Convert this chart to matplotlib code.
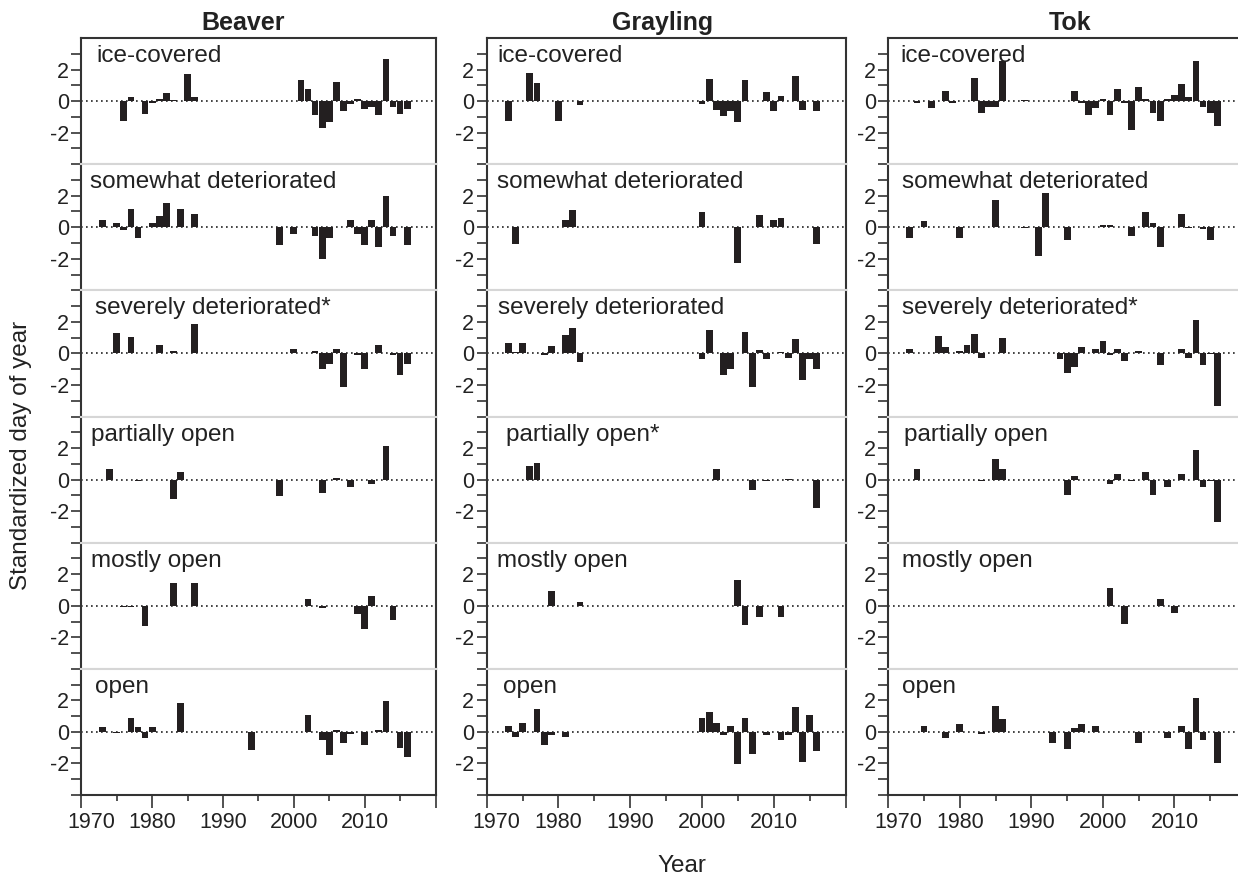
import matplotlib
matplotlib.use("Agg")
import matplotlib.pyplot as plt
from matplotlib.transforms import ScaledTranslation

plt.rcParams['font.family'] = ['Liberation Sans', 'DejaVu Sans']
plt.rcParams['axes.unicode_minus'] = False

## data: (year, standardized day of year) ##
stations = ['Beaver', 'Grayling', 'Tok']
stages = ['ice-covered', 'somewhat deteriorated', 'severely deteriorated',
          'partially open', 'mostly open', 'open']

# stages with a significant trend get an asterisk
starred = {('Beaver', 'severely deteriorated'), ('Grayling', 'partially open'),
           ('Tok', 'severely deteriorated')}

beaver_ice = [(1976, -1.28), (1977, 0.26), (1979, -0.79), (1980, -0.15), (1981, 0.13),
              (1982, 0.53), (1983, 0.05), (1985, 1.74), (1986, 0.26), (2000, 0.03),
              (2001, 1.36), (2002, 0.79), (2003, -0.91), (2004, -1.68), (2005, -1.3),
              (2006, 1.23), (2007, -0.66), (2008, -0.17), (2009, 0.15), (2010, -0.5),
              (2011, -0.35), (2012, -0.91), (2013, 2.64), (2014, -0.4), (2015, -0.79),
              (2016, -0.51)]
beaver_somewhat = [(1973, 0.43), (1975, 0.3), (1976, -0.17), (1977, 1.13), (1978, -0.7),
                   (1980, 0.3), (1981, 0.74), (1982, 1.51), (1984, 1.13), (1986, 0.87),
                   (1998, -1.15), (2000, -0.43), (2003, -0.55), (2004, -2.04), (2005, -0.68),
                   (2008, 0.43), (2009, -0.43), (2010, -1.15), (2011, 0.43), (2012, -1.26),
                   (2013, 2.0), (2014, -0.55), (2016, -1.15)]
beaver_severe = [(1975, 1.28), (1977, 1.06), (1981, 0.51), (1983, 0.13), (1986, 1.85),
                 (2000, 0.3), (2003, 0.13), (2004, -1.0), (2005, -0.64), (2006, 0.3),
                 (2007, -2.15), (2009, -0.08), (2010, -1.0), (2012, 0.51), (2014, -0.08),
                 (2015, -1.38), (2016, -0.64)]
beaver_partial = [(1974, 0.7), (1978, -0.08), (1983, -1.26), (1984, 0.51), (1998, -1.06),
                  (2004, -0.87), (2006, 0.13), (2008, -0.49), (2011, -0.3), (2013, 2.1)]
beaver_mostly = [(1976, -0.1), (1977, -0.05), (1979, -1.28), (1983, 1.45), (1986, 1.45),
                 (2002, 0.43), (2004, -0.13), (2009, -0.53), (2010, -1.49), (2011, 0.62),
                 (2014, -0.91)]
beaver_open = [(1973, 0.32), (1975, -0.04), (1977, 0.89), (1978, 0.32), (1979, -0.36),
               (1980, 0.32), (1984, 1.85), (1994, -1.15), (2002, 1.1), (2004, -0.49),
               (2005, -1.47), (2006, 0.13), (2007, -0.68), (2008, -0.13), (2010, -0.83),
               (2012, 0.13), (2013, 1.98), (2015, -1.0), (2016, -1.57)]

grayling_ice = [(1973, -1.28), (1976, 1.79), (1977, 1.15), (1980, -1.28), (1983, -0.26),
                (2000, -0.17), (2001, 1.4), (2002, -0.57), (2003, -0.96), (2004, -0.62),
                (2005, -1.34), (2006, 1.34), (2009, 0.57), (2010, -0.62), (2011, 0.32),
                (2012, 0.03), (2013, 1.6), (2014, -0.55), (2016, -0.62)]
grayling_somewhat = [(1974, -1.04), (1978, 0.02), (1981, 0.47), (1982, 1.1), (2000, 0.98),
                     (2005, -2.25), (2008, 0.79), (2010, 0.47), (2011, 0.6), (2016, -1.04)]
grayling_severe = [(1973, 0.68), (1974, 0.1), (1975, 0.68), (1978, -0.08), (1979, 0.49),
                   (1981, 1.19), (1982, 1.64), (1983, -0.53), (2000, -0.38), (2001, 1.51),
                   (2002, 0.02), (2003, -1.34), (2004, -0.96), (2006, 1.38), (2007, -2.13),
                   (2008, 0.23), (2009, -0.38), (2011, 0.1), (2012, -0.26), (2013, 0.94),
                   (2014, -1.66), (2015, -0.38), (2016, -0.96)]
grayling_partial = [(1976, 0.89), (1977, 1.02), (2002, 0.64), (2007, -0.68), (2009, -0.08),
                    (2012, 0.04), (2016, -1.83)]
grayling_mostly = [(1979, 0.91), (1983, 0.21), (2005, 1.62), (2006, -1.19), (2008, -0.72),
                   (2010, -0.02), (2011, -0.72)]
grayling_open = [(1973, 0.36), (1974, -0.32), (1975, 0.55), (1977, 1.45), (1978, -0.83),
                 (1979, -0.19), (1981, -0.32), (2000, 0.87), (2001, 1.26), (2002, 0.55),
                 (2003, -0.19), (2004, 0.36), (2005, -2.06), (2006, 0.87), (2007, -1.43),
                 (2009, -0.19), (2010, 0.02), (2011, -0.51), (2012, -0.19), (2013, 1.57),
                 (2014, -1.91), (2015, 1.06), (2016, -1.21)]

tok_ice = [(1974, -0.1), (1976, -0.47), (1978, 0.64), (1979, -0.13), (1982, 1.47),
           (1983, -0.77), (1984, -0.38), (1985, -0.38), (1986, 2.55), (1989, 0.1),
           (1996, 0.64), (1997, -0.13), (1998, -0.89), (1999, -0.43), (2000, 0.13),
           (2001, -0.89), (2002, 0.77), (2003, -0.13), (2004, -1.83), (2005, 0.89),
           (2006, 0.13), (2007, -0.77), (2008, -1.28), (2009, 0.13), (2010, 0.38),
           (2011, 1.09), (2012, 0.26), (2013, 2.55), (2014, -0.38), (2015, -0.77),
           (2016, -1.57)]
tok_somewhat = [(1973, -0.68), (1975, 0.38), (1980, -0.68), (1985, 1.72), (1989, -0.04),
                (1991, -1.85), (1992, 2.17), (1995, -0.81), (2000, 0.13), (2001, 0.13),
                (2004, -0.55), (2006, 0.96), (2007, 0.26), (2008, -1.26), (2011, 0.83),
                (2012, -0.04), (2014, -0.08), (2015, -0.81)]
tok_severe = [(1973, 0.3), (1977, 1.13), (1978, 0.43), (1980, 0.17), (1981, 0.55),
              (1982, 1.26), (1983, -0.26), (1986, 1.0), (1994, -0.34), (1995, -1.23),
              (1996, -0.85), (1997, 0.43), (1999, 0.3), (2000, 0.81), (2001, -0.08),
              (2002, 0.3), (2003, -0.51), (2005, 0.17), (2008, -0.72), (2011, 0.3),
              (2012, -0.26), (2013, 2.09), (2014, -0.72), (2015, -0.04), (2016, -3.32)]
tok_partial = [(1974, 0.68), (1983, -0.08), (1985, 1.32), (1986, 0.68), (1995, -0.96),
               (1996, 0.21), (2001, -0.26), (2002, 0.36), (2004, -0.08), (2006, 0.49),
               (2007, -0.96), (2009, -0.45), (2011, 0.36), (2013, 1.89), (2014, -0.45),
               (2015, -0.08), (2016, -2.68)]
tok_mostly = [(2001, 1.15), (2003, -1.13), (2008, 0.45), (2010, -0.49)]
tok_open = [(1975, 0.4), (1978, -0.4), (1980, 0.53), (1983, -0.13), (1985, 1.62),
            (1986, 0.79), (1993, -0.72), (1995, -1.1), (1996, 0.28), (1997, 0.53),
            (1999, 0.4), (2005, -0.72), (2009, -0.4), (2011, 0.4), (2012, -1.1),
            (2013, 2.13), (2014, -0.53), (2016, -1.94)]

series = {
    'Beaver': [beaver_ice, beaver_somewhat, beaver_severe, beaver_partial, beaver_mostly, beaver_open],
    'Grayling': [grayling_ice, grayling_somewhat, grayling_severe, grayling_partial, grayling_mostly, grayling_open],
    'Tok': [tok_ice, tok_somewhat, tok_severe, tok_partial, tok_mostly, tok_open],
}

x_ticks = [1970, 1980, 1990, 2000, 2010, 2020]
x_ticklabels = ['1970', '1980', '1990', '2000', '2010', '']

## layout in pixels ##
W, H = 1238, 875
col_left = [81.3, 486.7, 888.3]
col_right = [435.5, 845.5, 1246.0]
title_x = [243, 663, 1070]
top_px, bottom_px = 38, 795
panel_h = (bottom_px - top_px) / 6
# left offset of each stage label (px from the axis)
label_dx = {'Beaver': [15, 9, 14, 10, 10, 14],
            'Grayling': [11, 10, 11, 19, 10, 16],
            'Tok': [12, 14, 14, 16, 14, 14]}

dark = '#333333'
sep = '#d6d6d6'
bar_col = '#231f20'

fig = plt.figure(figsize=(W / 100, H / 100), dpi=100)

for c, st in enumerate(stations):
    for r, stage in enumerate(stages):
        left = col_left[c] / W
        width = (col_right[c] - col_left[c]) / W
        bottom = 1 - (top_px + (r + 1) * panel_h) / H
        ax = fig.add_axes([left, bottom, width, panel_h / H])

        yrs = [p[0] for p in series[st][r]]
        vals = [p[1] for p in series[st][r]]
        ax.bar(yrs, vals, width=0.95, color=bar_col, linewidth=0, zorder=3)
        ax.axhline(0, color='#222222', ls=(0, (1, 2)), lw=1.2, zorder=2)

        ax.set_xlim(1970, 2020)
        ax.set_ylim(-4, 4)

        ## y axis ##
        ax.set_yticks([-2, 0, 2])
        ax.set_yticklabels(['-2', '0', '2'])
        ax.set_yticks([-4, -3, -1, 1, 3], minor=True)
        ax.tick_params(axis='y', which='both', direction='out', length=7, width=1.2,
                       color=dark, labelsize=15.5, pad=2, labelcolor='#222222')

        ## x axis only on the bottom row ##
        if r == 5:
            ax.set_xticks(x_ticks)
            ax.set_xticklabels(x_ticklabels)
            ax.set_xticks(range(1975, 2020, 10), minor=True)
            ax.tick_params(axis='x', which='major', direction='out', length=9, width=1.2,
                           color=dark, labelsize=15.5, pad=3, labelcolor='#222222')
            ax.tick_params(axis='x', which='minor', direction='out', length=4.5, width=1.2,
                           color=dark)
            lab = ax.get_xticklabels()[0]
            lab.set_transform(lab.get_transform() + ScaledTranslation(10 / 100, 0, fig.dpi_scale_trans))
        else:
            ax.set_xticks([])

        for s in ['left', 'right']:
            ax.spines[s].set_color(dark)
            ax.spines[s].set_linewidth(1.5)
        ax.spines['top'].set_color(dark if r == 0 else sep)
        ax.spines['bottom'].set_color(dark if r == 5 else sep)
        ax.spines['top'].set_linewidth(1.5)
        ax.spines['bottom'].set_linewidth(1.5)

        name = stage + ('*' if (st, stage) in starred else '')
        ax.text(label_dx[st][r] / (col_right[c] - col_left[c]), 1 - 7 / panel_h, name,
                transform=ax.transAxes, ha='left', va='top', fontsize=17.5, color='#222222')

    fig.text(title_x[c] / W, 1 - 23 / H, st, ha='center', va='center',
             fontsize=18, fontweight='bold', color='#222222')

fig.text(21 / W, 1 - 455 / H, 'Standardized day of year', rotation=90,
         ha='center', va='center', fontsize=17.5, color='#222222')
fig.text(682 / W, 1 - 866 / H, 'Year', ha='center', va='center', fontsize=17.5, color='#222222')

plt.savefig('out.png', dpi=100)
